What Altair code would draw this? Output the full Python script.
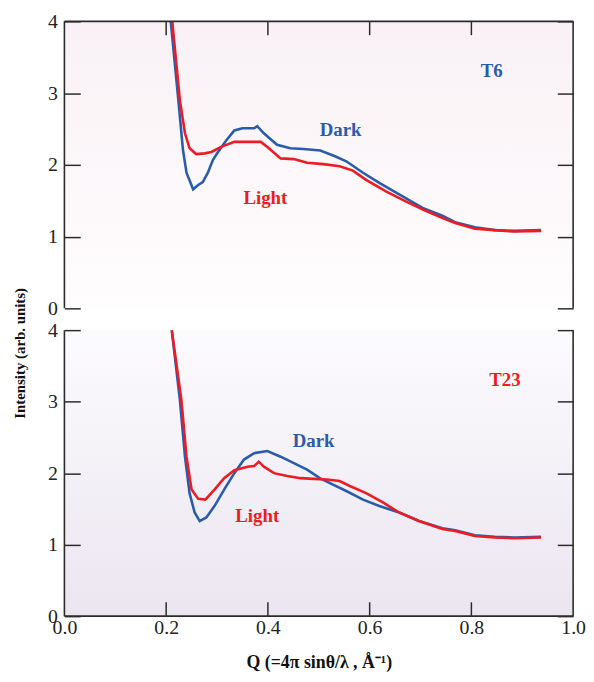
import altair as alt
import pandas as pd

# ---------------- data ----------------
t6_dark_q = [0.209, 0.224, 0.233, 0.240, 0.253, 0.263, 0.272, 0.282, 0.292, 0.302, 0.318, 0.334,
             0.350, 0.373, 0.379, 0.392, 0.418, 0.444, 0.470, 0.503, 0.532, 0.554, 0.587, 0.619,
             0.658, 0.704, 0.743, 0.768, 0.807, 0.846, 0.885, 0.937]
t6_dark_i = [4.00, 2.90, 2.21, 1.89, 1.66, 1.72, 1.76, 1.89, 2.07, 2.18, 2.34, 2.48,
             2.51, 2.51, 2.54, 2.44, 2.28, 2.23, 2.22, 2.20, 2.12, 2.05, 1.89, 1.75,
             1.59, 1.40, 1.29, 1.20, 1.13, 1.09, 1.08, 1.09]

t6_light_q = [0.212, 0.227, 0.237, 0.246, 0.259, 0.276, 0.289, 0.308, 0.334, 0.360, 0.386, 0.399,
              0.425, 0.451, 0.477, 0.509, 0.541, 0.567, 0.593, 0.632, 0.671, 0.710, 0.746, 0.768,
              0.807, 0.846, 0.885, 0.937]
t6_light_i = [4.00, 2.90, 2.44, 2.23, 2.15, 2.16, 2.18, 2.25, 2.32, 2.32, 2.32, 2.25,
              2.09, 2.08, 2.03, 2.01, 1.98, 1.92, 1.79, 1.63, 1.49, 1.36, 1.25, 1.19,
              1.11, 1.09, 1.07, 1.08]

t23_dark_q = [0.211, 0.227, 0.237, 0.246, 0.256, 0.266, 0.279, 0.295, 0.314, 0.334, 0.353, 0.373,
              0.399, 0.425, 0.451, 0.477, 0.502, 0.528, 0.554, 0.587, 0.619, 0.658, 0.697, 0.743,
              0.768, 0.807, 0.846, 0.885, 0.937]
t23_dark_i = [4.00, 3.02, 2.23, 1.72, 1.45, 1.33, 1.38, 1.54, 1.77, 2.00, 2.19, 2.28,
              2.31, 2.23, 2.14, 2.05, 1.93, 1.84, 1.75, 1.63, 1.54, 1.45, 1.33, 1.23,
              1.20, 1.13, 1.11, 1.10, 1.11]

t23_light_q = [0.211, 0.230, 0.240, 0.250, 0.263, 0.277, 0.295, 0.314, 0.334, 0.360, 0.373, 0.382,
               0.392, 0.412, 0.438, 0.464, 0.490, 0.516, 0.541, 0.561, 0.593, 0.626, 0.658, 0.697,
               0.743, 0.768, 0.807, 0.846, 0.885, 0.937]
t23_light_i = [4.00, 3.02, 2.23, 1.77, 1.64, 1.63, 1.77, 1.93, 2.04, 2.09, 2.10, 2.16,
               2.09, 2.00, 1.96, 1.93, 1.92, 1.91, 1.89, 1.82, 1.72, 1.59, 1.45, 1.33,
               1.22, 1.19, 1.12, 1.10, 1.09, 1.10]

series_names = ["Dark", "Light"]
series_colors = ["#2a5caa", "#ec1c24"]

# annotation texts: (text, q, intensity, series)
t6_labels = [("T6", 0.840, 3.31, "Dark"), ("Dark", 0.543, 2.48, "Dark"), ("Light", 0.395, 1.54, "Light")]
t23_labels = [("T23", 0.866, 3.30, "Light"), ("Dark", 0.490, 2.45, "Dark"), ("Light", 0.379, 1.40, "Light")]

x_minor_ticks = [0.2, 0.4, 0.6, 0.8]
x_ticks_bottom = [0.0, 0.2, 0.4, 0.6, 0.8, 1.0]
y_ticks = [0, 1, 2, 3, 4]

X_TITLE = "Q (=4π sinθ/λ , Å⁻¹)"
Y_TITLE = "Intensity (arb. units)"

# ---------------- style ----------------
W = 514
FONT = "Liberation Serif"
INK = "#2b2b2b"
LABEL_SIZE = 20
XTICK = 14
color_scale = alt.Scale(domain=series_names, range=series_colors)

common_axis = dict(domain=False, grid=False, tickColor=INK, tickWidth=1.5, zindex=2,
                   labelFont=FONT, labelFontSize=LABEL_SIZE, labelColor="#222")


def panel(dq, di, lq, li, labels, H, top, grad):
    lines = pd.DataFrame({
        "q": dq + lq,
        "i": di + li,
        "series": ["Dark"] * len(dq) + ["Light"] * len(lq),
        "order": list(range(len(dq))) + list(range(len(lq))),
    })
    texts = pd.DataFrame(labels, columns=["text", "q", "i", "series"])
    xticks_df = pd.DataFrame({"q": x_minor_ticks})

    if top:
        x_axis = None
        y_axis = alt.Axis(orient="left", offset=-16, tickSize=16, values=y_ticks, format="d",
                          labelPadding=7,
                          title=Y_TITLE, titleFont=FONT, titleFontSize=15, titleFontWeight="bold",
                          titleColor="#111", titleY=335, titlePadding=20, **common_axis)
    else:
        x_axis = alt.Axis(orient="bottom", offset=0, ticks=False, values=x_ticks_bottom,
                          format=".1f", labelPadding=2, labelFlush=False,
                          title=X_TITLE, titleFont=FONT, titleFontSize=18, titleFontWeight="bold",
                          titleColor="#111", titlePadding=16, **common_axis)
        y_axis = alt.Axis(orient="left", offset=-16, tickSize=16, values=y_ticks, format="d",
                          labelPadding=7, title=None, **common_axis)
    y_axis_right = alt.Axis(orient="right", offset=-16, tickSize=16, values=y_ticks, labels=False,
                            title=None, **common_axis)

    xs = alt.Scale(domain=[0, 1], nice=False)
    ys = alt.Scale(domain=[0, 4], nice=False)

    one = alt.Data(values=[{"a": 1}])
    bg = alt.Chart(one).mark_rect(
        color=alt.LinearGradient(gradient="linear", x1=0, x2=0, y1=0, y2=1,
                                 stops=[alt.GradientStop(color=grad[0], offset=0),
                                        alt.GradientStop(color=grad[1], offset=1)])
    ).encode(x=alt.value(0), x2=alt.value(W), y=alt.value(0), y2=alt.value(H))

    line = alt.Chart(lines).mark_line(strokeWidth=2.6, clip=True).encode(
        x=alt.X("q:Q", scale=xs, axis=x_axis),
        y=alt.Y("i:Q", scale=ys, axis=y_axis),
        color=alt.Color("series:N", scale=color_scale, legend=None),
        order="order:Q",
        detail="series:N",
    )
    right = alt.Chart(lines).mark_line(opacity=0).encode(
        x=alt.X("q:Q", scale=xs, axis=None),
        y=alt.Y("i:Q", scale=ys, axis=y_axis_right),
        detail="series:N",
    )
    txt = alt.Chart(texts).mark_text(font=FONT, fontSize=19, fontWeight="bold").encode(
        x=alt.X("q:Q", scale=xs, axis=None),
        y=alt.Y("i:Q", scale=ys, axis=None),
        text="text:N",
        color=alt.Color("series:N", scale=color_scale, legend=None),
    )

    # inward x ticks on the outer edge of each panel
    t0, t1 = (0, XTICK) if top else (H - XTICK, H)
    xticks = alt.Chart(xticks_df).mark_rule(color=INK, strokeWidth=1.5).encode(
        x=alt.X("q:Q", scale=xs, axis=None), y=alt.value(t0), y2=alt.value(t1))

    frame_style = dict(color=INK, strokeWidth=1.6)
    left_edge = alt.Chart(one).mark_rule(**frame_style).encode(
        x=alt.value(0), y=alt.value(0), y2=alt.value(H))
    right_edge = alt.Chart(one).mark_rule(**frame_style).encode(
        x=alt.value(W), y=alt.value(0), y2=alt.value(H))
    edge_y = 0 if top else H
    horiz_edge = alt.Chart(one).mark_rule(**frame_style).encode(
        x=alt.value(0), x2=alt.value(W), y=alt.value(edge_y))

    return alt.layer(bg, line, right, txt, xticks, left_edge, right_edge, horiz_edge).resolve_axis(
        x="independent", y="independent").properties(width=W, height=H)


top_panel = panel(t6_dark_q, t6_dark_i, t6_light_q, t6_light_i, t6_labels, 290, True,
                  ("#f9f1f5", "#fffdfe"))
bottom_panel = panel(t23_dark_q, t23_dark_i, t23_light_q, t23_light_i, t23_labels, 289, False,
                     ("#fcfbfe", "#ebe5f0"))

chart = alt.vconcat(top_panel, bottom_panel, spacing=22, bounds="flush",
                    background="white",
                    padding={"left": 5, "right": 0, "top": 0, "bottom": 2}).configure_view(
    stroke=None
).configure_axis(zindex=2)

chart.save("out.html", embed_options={"renderer": "svg", "actions": False})
